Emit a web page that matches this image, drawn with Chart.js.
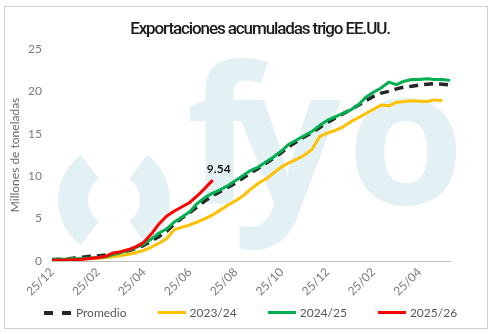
<!DOCTYPE html>
<html lang="es">
<head>
  <meta charset="UTF-8">
  <title>Exportaciones acumuladas trigo EE.UU.</title>
  <script src="https://cdn.jsdelivr.net/npm/chart.js"></script>
  <style>
    body { margin: 0; background: #fff; }
    #wrap { position: relative; width: 494px; height: 334px; }
    #marco { position: absolute; left: 4px; top: 6px; width: 482px; height: 321px; border: 1px solid #d0d0d0; pointer-events: none; }
    #titulo { position: absolute; left: 0; width: 520px; top: 18px; text-align: center; font-family: Roboto, sans-serif; font-size: 17px; font-weight: 500; letter-spacing: -1.1px; color: #1a1a1a; }
    #leyenda { position: absolute; left: 0; width: 501px; top: 305px; display: flex; justify-content: center; gap: 31px; font-family: Lato, sans-serif; font-size: 12px; color: #595959; }
    .item { display: flex; align-items: center; gap: 4px; }
    .linea { width: 28px; height: 3px; }
    canvas { position: absolute; left: 0; top: 0; }
  </style>
</head>
<body>
  <div id="wrap">
    <canvas id="grafico" width="494" height="334"></canvas>
    <div id="titulo">Exportaciones acumuladas trigo EE.UU.</div>
    <div id="leyenda"></div>
    <div id="marco"></div>
  </div>

  <script>
  // etiquetas semanales del eje x (solo cada 6 semanas lleva texto)
  const semanas = [
    '25/12', '', '', '', '', '',
    '25/02', '', '', '', '', '',
    '25/04', '', '', '', '', '',
    '25/06', '', '', '', '', '',
    '25/08', '', '', '', '', '',
    '25/10', '', '', '', '', '',
    '25/12', '', '', '', '', '',
    '25/02', '', '', '', '', '',
    '25/04', '', '', '', ''
  ];

  // millones de toneladas acumuladas
  const promedio = [0.15, 0.2, 0.25, 0.35, 0.45, 0.55, 0.6, 0.7, 0.85, 1.0,
    1.2, 1.5, 1.85, 2.35, 2.9, 3.5, 4.4, 5.1, 5.7, 6.4,
    7.1, 7.7, 8.2, 8.7, 9.2, 9.8, 10.4, 10.95, 11.55, 12.15,
    12.8, 13.5, 14.1, 14.65, 15.15, 15.75, 16.35, 16.85, 17.35, 17.85,
    18.35, 18.9, 19.4, 19.8, 20.0, 20.3, 20.5, 20.6, 20.75, 20.85,
    20.9, 20.85, 20.75];

  const c2023 = [0.15, 0.15, 0.2, 0.2, 0.25, 0.3, 0.3, 0.4, 0.5, 0.65,
    0.8, 1.0, 1.25, 1.65, 2.1, 2.65, 3.7, 4.0, 4.25, 4.6,
    5.0, 5.45, 6.0, 6.6, 7.1, 7.7, 8.5, 9.2, 9.7, 10.4,
    11.1, 11.6, 12.0, 12.5, 13.2, 14.7, 15.1, 15.4, 15.8, 16.4,
    16.9, 17.4, 17.9, 18.4, 18.3, 18.7, 18.8, 18.9, 18.85, 18.8,
    19.0, 18.9];

  const c2024 = [0.2, 0.2, 0.2, 0.25, 0.3, 0.35, 0.4, 0.5, 0.75, 1.0,
    1.25, 1.6, 2.0, 2.6, 3.3, 3.8, 4.6, 5.2, 5.8, 6.8,
    7.5, 8.0, 8.4, 8.9, 9.5, 10.1, 10.7, 11.1, 11.7, 12.3,
    13.0, 13.8, 14.3, 14.8, 15.3, 16.0, 16.6, 17.0, 17.4, 17.8,
    18.4, 19.3, 19.9, 20.4, 21.1, 20.8, 21.2, 21.4, 21.4, 21.5,
    21.4, 21.4, 21.3];

  const c2025 = [0.1, 0.1, 0.12, 0.15, 0.2, 0.3, 0.4, 0.55, 0.95, 1.1,
    1.35, 1.7, 2.2, 3.2, 4.4, 5.3, 5.9, 6.4, 6.9, 7.7,
    8.6, 9.54];

  const marcaAgua = {
    id: 'marcaAgua',
    beforeDatasetsDraw(chart) {
      const ctx = chart.ctx;
      ctx.save();
      ctx.fillStyle = '#e3f1f5';
      ctx.strokeStyle = '#e3f1f5';
      ctx.lineWidth = 30;
      ctx.beginPath();
      ctx.arc(114, 200, 41, Math.PI * 0.7, Math.PI * 1.3);
      ctx.stroke();
      ctx.beginPath();
      ctx.arc(114, 200, 41, -Math.PI * 0.3, Math.PI * 0.3);
      ctx.stroke();
      ctx.font = 'bold 190px "Open Sans"';
      ctx.fillText('f', 186, 204);
      ctx.fillText('y', 233, 204);
      ctx.fillText('o', 347, 204);
      ctx.restore();
    }
  };

  // valor final de la campaña actual
  const etiquetaFinal = {
    id: 'etiquetaFinal',
    afterDatasetsDraw(chart) {
      const meta = chart.getDatasetMeta(3);
      const pt = meta.data[meta.data.length - 1];
      const ctx = chart.ctx;
      ctx.save();
      ctx.font = 'bold 12px Lato';
      ctx.fillStyle = '#1a1a1a';
      ctx.textAlign = 'center';
      ctx.textBaseline = 'bottom';
      ctx.fillText(c2025[c2025.length - 1].toFixed(2), pt.x + 6, pt.y - 5);
      ctx.restore();
    }
  };

  // leyenda en html, armada desde los datasets
  const leyendaHtml = {
    id: 'leyendaHtml',
    afterUpdate(chart) {
      const cont = document.getElementById('leyenda');
      cont.innerHTML = '';
      chart.data.datasets.forEach(ds => {
        const item = document.createElement('div');
        item.className = 'item';
        const linea = document.createElement('span');
        linea.className = 'linea';
        if (ds.borderDash) {
          linea.style.background = `repeating-linear-gradient(90deg, ${ds.borderColor} 0 9px, transparent 9px 18px)`;
          linea.style.height = '4px';
        } else {
          linea.style.background = ds.borderColor;
        }
        const txt = document.createElement('span');
        txt.textContent = ds.label;
        item.appendChild(linea);
        item.appendChild(txt);
        cont.appendChild(item);
      });
    }
  };

  const ctx = document.getElementById('grafico').getContext('2d');
  new Chart(ctx, {
    type: 'line',
    data: {
      labels: semanas,
      datasets: [
        {
          label: 'Promedio',
          data: promedio,
          borderColor: '#262626',
          borderWidth: 3.5,
          borderDash: [9, 6],
          order: 4
        },
        {
          label: '2023/24',
          data: c2023,
          borderColor: '#ffc000',
          borderWidth: 3,
          order: 3
        },
        {
          label: '2024/25',
          data: c2024,
          borderColor: '#00b050',
          borderWidth: 3,
          order: 2
        },
        {
          label: '2025/26',
          data: c2025,
          borderColor: '#ff0000',
          borderWidth: 3,
          order: 1
        }
      ]
    },
    options: {
      responsive: false,
      animation: false,
      elements: {
        point: { radius: 0 },
        line: { tension: 0, borderJoinStyle: 'round' }
      },
      layout: { padding: { left: 8, right: 44, top: 49, bottom: 34 } },
      scales: {
        x: {
          grid: { display: false, drawTicks: false },
          border: { display: true, color: '#c0c0c0' },
          ticks: {
            autoSkip: false,
            maxRotation: 45,
            minRotation: 45,
            padding: 4,
            color: '#7a7a7a',
            font: { family: 'Lato', size: 12 }
          },
          afterFit: (scale) => { scale.height = 39; }
        },
        y: {
          min: 0,
          max: 25,
          grid: { display: false, drawTicks: false },
          border: { display: false },
          ticks: {
            stepSize: 5,
            padding: 10,
            color: '#7a7a7a',
            font: { family: 'Lato', size: 12 }
          },
          title: {
            display: true,
            text: 'Millones de toneladas',
            color: '#6a6a6a',
            padding: 0,
            font: { family: 'Lato', size: 12 }
          },
          afterFit: (scale) => { scale.width = 44; }
        }
      },
      plugins: {
        legend: { display: false },
        tooltip: { enabled: false }
      }
    },
    plugins: [marcaAgua, etiquetaFinal, leyendaHtml]
  });
  </script>
</body>
</html>
